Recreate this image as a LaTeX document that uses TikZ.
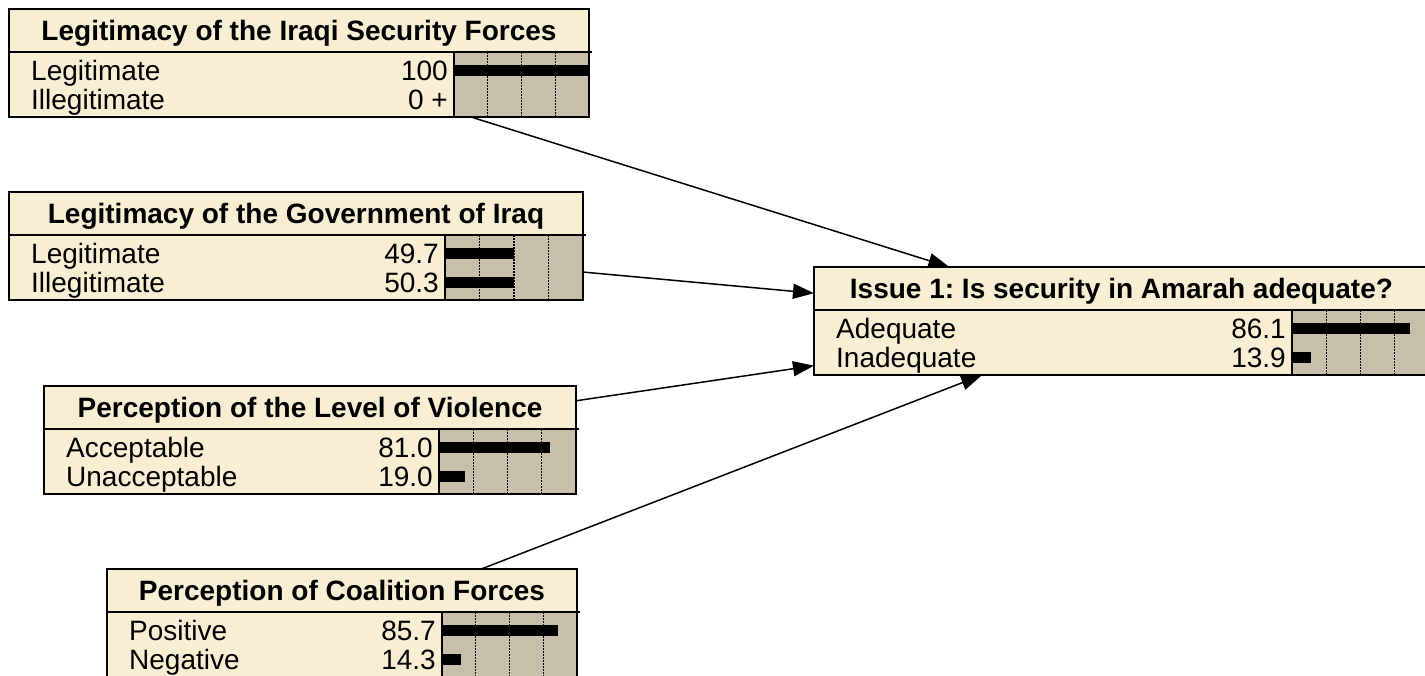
\documentclass[tikz,border=0pt]{standalone}
\usepackage{fontspec}
\setmainfont{Liberation Sans}
\usetikzlibrary{arrows.meta}
\definecolor{cream}{RGB}{248,238,212}
\definecolor{bargray}{RGB}{200,191,170}
\frenchspacing

\tikzset{
  boxbg/.style={rectangle, fill=cream, inner sep=0pt, outer sep=0pt, anchor=north west, minimum height=108pt},
  boxborder/.style={draw=black, line width=2.6pt},
  sepline/.style={draw=black, line width=1.4pt},
  gridline/.style={draw=black, line width=1.3pt, dash pattern=on 1.5pt off 1.5pt},
  titletext/.style={font=\fontsize{28}{32}\selectfont\bfseries, anchor=base, inner sep=0pt},
  rowtext/.style={font=\fontsize{28}{32}\selectfont, anchor=base west, inner sep=0pt},
  valtext/.style={font=\fontsize{28}{32}\selectfont, anchor=base east, inner sep=0pt},
  link/.style={draw=black, line width=1.5pt, -{Triangle[length=21pt,width=15pt]}},
}

% name, x left, y top, x right, x bar start, title
\newcommand\netbox[6]{%
  \pgfmathsetmacro\nbw{#4-#2}%
  \node[boxbg, minimum width=\nbw pt] (#1) at (#2,#3) {};
  \fill[bargray] (#5,#3+43) rectangle (#4,#3+108);
  \foreach \kk in {1,2,3}{\draw[gridline] ({#5+\kk*(#4-#5)/4},#3+43) -- ++(0,65);}
  \draw[sepline] (#2,#3+43) -- (#4+3,#3+43);
  \draw[sepline] (#5,#3+43) -- (#5,#3+108);
  \node[titletext] (#1-t) at ({(#2+#4)/2},#3+31.5) {#6};
}
% name, x left, x bar, x right, y centre, label, value, percent
\newcommand\netrow[8]{%
  \node[rowtext] (#1) at (#2+22,#5+10) {#6};
  \node[valtext] (#1-v) at (#3-6,#5+10) {#7};
  \fill[black] (#3,#5-5.5) rectangle ({#3+#8*(#4-#3)/100},#5+5.5);
}

\begin{document}
\begin{tikzpicture}[x=1pt,y=-1pt]
\useasboundingbox (0,0) rectangle (1425,675);
\clip (0,0) rectangle (1425,675);

% Box 1
\netbox{b1}{9}{9}{589}{454}{Legitimacy of the Iraqi Security Forces}
\netrow{b1-r1}{9}{454}{589}{70}{Legitimate}{100}{100}
\netrow{b1-r2}{9}{454}{589}{99}{Illegitimate}{0 +}{0}
\draw[boxborder] (b1.north west) rectangle (b1.south east);

% Box 2
\netbox{b2}{9}{192}{583}{445}{Legitimacy of the Government of Iraq}
\netrow{b2-r1}{9}{445}{583}{253}{Legitimate}{49.7}{49.7}
\netrow{b2-r2}{9}{445}{583}{282}{Illegitimate}{50.3}{50.3}
\draw[boxborder] (b2.north west) rectangle (b2.south east);

% Box 3
\netbox{b3}{44}{386}{576}{439}{Perception of the Level of Violence}
\netrow{b3-r1}{44}{439}{576}{447}{Acceptable}{81.0}{81.0}
\netrow{b3-r2}{44}{439}{576}{476}{Unacceptable}{19.0}{19.0}
\draw[boxborder] (b3.north west) rectangle (b3.south east);

% Box 4
\netbox{b4}{107}{569}{577}{442}{Perception of Coalition Forces}
\netrow{b4-r1}{107}{442}{577}{630}{Positive}{85.7}{85.7}
\netrow{b4-r2}{107}{442}{577}{659}{Negative}{14.3}{14.3}
\draw[boxborder] (b4.north west) rectangle (b4.south east);

% Box 5
\netbox{b5}{814}{267}{1429}{1292}{Issue 1: Is security in Amarah adequate?}
\netrow{b5-r1}{814}{1292}{1429}{328}{Adequate}{86.1}{86.1}
\netrow{b5-r2}{814}{1292}{1429}{357}{Inadequate}{13.9}{13.9}
\draw[boxborder] (b5.north west) rectangle (b5.south east);

% Connectors
\draw[link] (b1) -- (b5);
\draw[link] (b2) -- (b5);
\draw[link] (b3) -- (b5);
\draw[link] (b4) -- (b5);
\end{tikzpicture}
\end{document}
